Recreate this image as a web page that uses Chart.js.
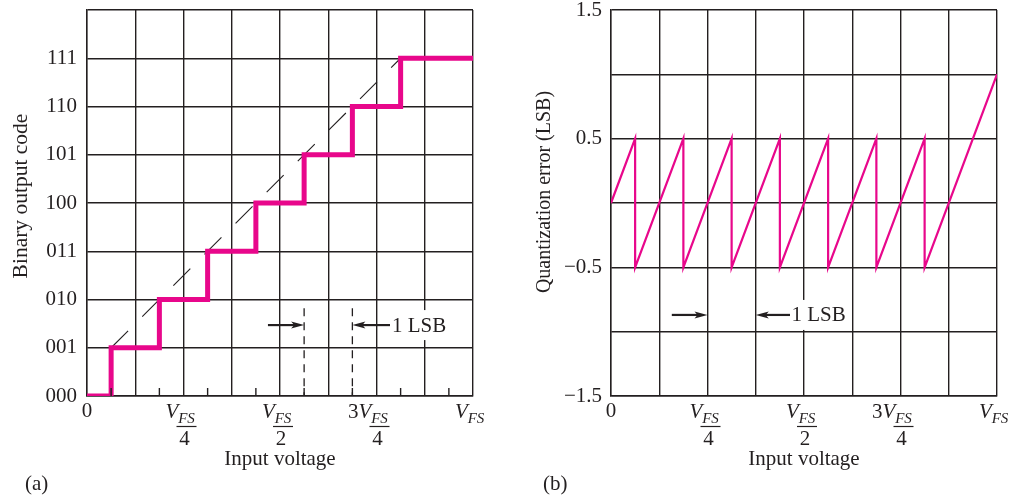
<!DOCTYPE html>
<html>
<head>
<meta charset="utf-8">
<script src="https://cdn.jsdelivr.net/npm/chart.js@4/dist/chart.umd.min.js"></script>
<style>
  body { margin: 0; background: #fff; }
  #wrap { position: relative; width: 1016px; height: 498px; }
  canvas { position: absolute; top: 0; }
  #chart-codes { left: 0; }
  #chart-error { left: 508px; }
</style>
</head>
<body>
<div id="wrap">
  <canvas id="chart-codes" width="508" height="498"></canvas>
  <canvas id="chart-error" width="508" height="498"></canvas>
</div>
<script>
// values, input voltage in LSB units (V_FS = 8 LSB)
const codeLabels = ['000', '001', '010', '011', '100', '101', '110', '111'];
const stairVoltage = [0, 0.5, 1.5, 2.5, 3.5, 4.5, 5.5, 6.5, 8];
const stairCode = [0, 1, 2, 3, 4, 5, 6, 7, 7];
const idealVoltage = [0.5, 6.5];
const idealCode = [1, 7];
const errVoltage = [0, 0.5, 0.5, 1.5, 1.5, 2.5, 2.5, 3.5, 3.5, 4.5, 4.5, 5.5, 5.5, 6.5, 6.5, 8];
const errValue = [0, 0.5, -0.5, 0.5, -0.5, 0.5, -0.5, 0.5, -0.5, 0.5, -0.5, 0.5, -0.5, 0.5, -0.5, 1];
const errTickValues = [1.5, 0.5, -0.5, -1.5];
const errTickLabels = ['1.5', '0.5', '\u22120.5', '\u22121.5'];
const voltageTicks = [0, 2, 4, 6, 8];
const voltageLabels = ['0', 'V_FS/4', 'V_FS/2', '3V_FS/4', 'V_FS'];
const halfSteps = [0.5, 1.5, 2.5, 3.5, 4.5, 5.5, 6.5, 7.5];

const ink = '#231f20';
const pink = '#e8078b';
const serif = 'Liberation Serif';

const toPoints = (xs, ys) => xs.map((x, i) => ({ x, y: ys[i] }));

const grid = { color: ink, lineWidth: 1.4, drawTicks: false };
const border = { color: ink, width: 1.4 };
const noPad = s => { s.paddingTop = 0; s.paddingBottom = 0; s.paddingLeft = 0; s.paddingRight = 0; };

function drawVoltageLabel(ctx, label, t, b) {
  const m = label.match(/^(\d*)V_FS(?:\/(\d))?$/);
  ctx.fillStyle = ink;
  ctx.textBaseline = 'alphabetic';
  if (!m) {
    ctx.font = `21px ${serif}`;
    ctx.textAlign = 'center';
    ctx.fillText(label, t, b + 21);
    return;
  }
  const vLeft = t - 18;
  ctx.font = `italic 21px ${serif}`;
  ctx.textAlign = 'left';
  ctx.fillText('V', vLeft, b + 22);
  if (m[1]) {
    ctx.font = `21px ${serif}`;
    ctx.textAlign = 'right';
    ctx.fillText(m[1], vLeft, b + 22);
  }
  ctx.font = `italic 15px ${serif}`;
  ctx.textAlign = 'center';
  ctx.fillText('FS', t + 3, b + 27);
  if (m[2]) {
    ctx.strokeStyle = ink;
    ctx.lineWidth = 1.2;
    ctx.beginPath();
    ctx.moveTo(t - 7, b + 30.5);
    ctx.lineTo(t + 13, b + 30.5);
    ctx.stroke();
    ctx.font = `21px ${serif}`;
    ctx.fillText(m[2], t + 1, b + 49);
  }
}

function arrow(ctx, x0, x1, y) {
  const dir = Math.sign(x1 - x0);
  ctx.strokeStyle = ink;
  ctx.fillStyle = ink;
  ctx.lineWidth = 2.2;
  ctx.beginPath();
  ctx.moveTo(x0, y);
  ctx.lineTo(x1 - dir * 9, y);
  ctx.stroke();
  ctx.beginPath();
  ctx.moveTo(x1, y);
  ctx.lineTo(x1 - dir * 13, y - 3.5);
  ctx.lineTo(x1 - dir * 10, y);
  ctx.lineTo(x1 - dir * 13, y + 3.5);
  ctx.closePath();
  ctx.fill();
}

function lsbText(ctx, x, y) {
  ctx.font = `21px ${serif}`;
  const w = ctx.measureText('1 LSB').width;
  ctx.fillStyle = '#fff';
  ctx.fillRect(x, y - 15, w + 3, 30);
  ctx.fillStyle = ink;
  ctx.textAlign = 'left';
  ctx.textBaseline = 'middle';
  ctx.fillText('1 LSB', x + 1, y + 1);
}

function drawFrameText(ctx, chart, yTitle, yTitleX, yTitleY, yTitleSize, panel, panelX) {
  const area = chart.chartArea;
  ctx.fillStyle = ink;
  ctx.font = `21px ${serif}`;
  ctx.textAlign = 'center';
  ctx.textBaseline = 'alphabetic';
  ctx.fillText('Input voltage', (area.left + area.right) / 2, 465);
  ctx.textAlign = 'left';
  ctx.fillText(panel, panelX, 490);
  ctx.save();
  ctx.translate(yTitleX, yTitleY);
  ctx.rotate(-Math.PI / 2);
  ctx.font = `${yTitleSize}px ${serif}`;
  ctx.textAlign = 'center';
  ctx.textBaseline = 'middle';
  ctx.fillText(yTitle, 0, 0);
  ctx.restore();
  const xs = chart.scales.x;
  voltageTicks.forEach((v, i) => drawVoltageLabel(ctx, voltageLabels[i], xs.getPixelForValue(v), area.bottom));
}

const codesDecor = {
  id: 'codesDecor',
  afterDraw(chart) {
    const ctx = chart.ctx;
    const xs = chart.scales.x, ys = chart.scales.y;
    const b = chart.chartArea.bottom;
    ctx.save();
    ctx.strokeStyle = ink;
    ctx.lineWidth = 1.4;
    halfSteps.forEach(v => {
      const x = xs.getPixelForValue(v);
      ctx.beginPath();
      ctx.moveTo(x, b);
      ctx.lineTo(x, b - 8);
      ctx.stroke();
    });
    // 1 LSB markers
    ctx.setLineDash([8, 6]);
    ctx.lineWidth = 1.3;
    [4.5, 5.5].forEach(v => {
      const x = xs.getPixelForValue(v);
      ctx.beginPath();
      ctx.moveTo(x, ys.getPixelForValue(1.82));
      ctx.lineTo(x, b);
      ctx.stroke();
    });
    ctx.setLineDash([]);
    const ay = ys.getPixelForValue(1.47);
    lsbText(ctx, xs.getPixelForValue(6.3), ay);
    arrow(ctx, xs.getPixelForValue(3.75), xs.getPixelForValue(4.5), ay);
    arrow(ctx, xs.getPixelForValue(6.28), xs.getPixelForValue(5.5), ay);
    drawFrameText(ctx, chart, 'Binary output code', 21, 196, 21.5, '(a)', 25);
    ctx.restore();
  }
};

const errorDecor = {
  id: 'errorDecor',
  afterDraw(chart) {
    const ctx = chart.ctx;
    const xs = chart.scales.x, ys = chart.scales.y;
    ctx.save();
    const ay = ys.getPixelForValue(-0.87);
    lsbText(ctx, xs.getPixelForValue(3.72), ay);
    arrow(ctx, xs.getPixelForValue(1.26), xs.getPixelForValue(2), ay);
    arrow(ctx, xs.getPixelForValue(3.71), xs.getPixelForValue(3), ay);
    drawFrameText(ctx, chart, 'Quantization error (LSB)', 37, 192, 20, '(b)', 35);
    ctx.restore();
  }
};

const baseOptions = (padRight) => ({
  responsive: false,
  animation: false,
  devicePixelRatio: 1,
  layout: { padding: { top: 10, right: padRight, left: 0, bottom: 0 } },
  plugins: { legend: { display: false }, tooltip: { enabled: false } }
});

const voltageAxis = {
  type: 'linear', min: 0, max: 8,
  grid, border,
  ticks: { display: false, stepSize: 1 },
  afterFit: s => { s.height = 102; noPad(s); }
};

new Chart(document.getElementById('chart-codes'), {
  type: 'line',
  data: {
    datasets: [
      {
        data: toPoints(stairVoltage, stairCode),
        borderColor: pink,
        borderWidth: 5,
        stepped: true,
        pointRadius: 0,
        borderCapStyle: 'butt',
        borderJoinStyle: 'miter'
      },
      {
        data: toPoints(idealVoltage, idealCode),
        borderColor: ink,
        borderWidth: 1.1,
        borderDash: [24, 20],
        pointRadius: 0
      }
    ]
  },
  options: {
    ...baseOptions(35),
    scales: {
      x: voltageAxis,
      y: {
        min: 0, max: 8,
        grid, border,
        ticks: {
          stepSize: 1, padding: 10, color: ink,
          font: { family: serif, size: 21, lineHeight: 1 },
          callback: v => codeLabels[v] ?? ''
        },
        afterFit: s => { s.width = 87; noPad(s); }
      }
    }
  },
  plugins: [codesDecor]
});

new Chart(document.getElementById('chart-error'), {
  type: 'line',
  data: {
    datasets: [
      {
        data: toPoints(errVoltage, errValue),
        borderColor: pink,
        borderWidth: 2.2,
        pointRadius: 0,
        borderJoinStyle: 'miter'
      }
    ]
  },
  options: {
    ...baseOptions(19),
    scales: {
      x: voltageAxis,
      y: {
        min: -1.5, max: 1.5,
        grid, border,
        ticks: {
          stepSize: 0.5, padding: 9, color: ink,
          font: { family: serif, size: 21, lineHeight: 1 },
          callback: v => {
            const i = errTickValues.findIndex(t => Math.abs(t - v) < 1e-6);
            return i >= 0 ? errTickLabels[i] : '';
          }
        },
        afterFit: s => { s.width = 103; noPad(s); }
      }
    }
  },
  plugins: [errorDecor]
});
</script>
</body>
</html>
